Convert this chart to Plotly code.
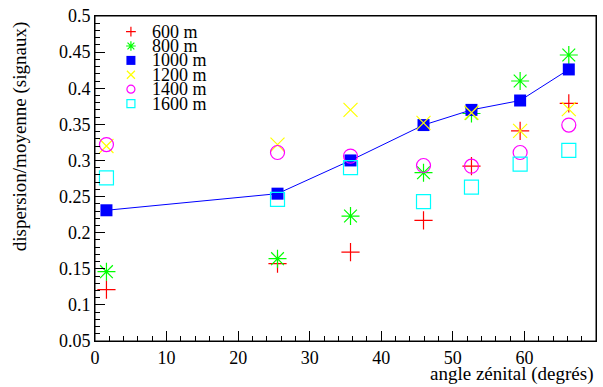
import plotly.graph_objects as go

# angle zénital (degrés)
angles = [1.6, 25.5, 35.7, 45.9, 52.6, 59.4, 66.2]

# dispersion/moyenne par distance
d600 = [0.121, 0.157, 0.173, 0.217, 0.292, 0.341, 0.379]
d800 = [0.146, 0.164, 0.223, 0.283, 0.365, 0.410, 0.446]
d1000 = [0.231, 0.254, 0.300, 0.349, 0.370, 0.383, 0.426]
d1200 = [0.320, 0.322, 0.370, 0.352, 0.366, 0.341, 0.371]
d1400 = [0.322, 0.311, 0.306, 0.293, 0.292, 0.311, 0.349]
d1600 = [0.276, 0.246, 0.290, 0.243, 0.263, 0.295, 0.314]

names = ["600 m", "800 m", "1000 m", "1200 m", "1400 m", "1600 m"]

yticks = [0.05, 0.1, 0.15, 0.2, 0.25, 0.3, 0.35, 0.4, 0.45, 0.5]
ytext = ["0.05", "0.1", "0.15", "0.2", "0.25", "0.3", "0.35", "0.4", "0.45", "0.5"]

FONT = "Liberation Serif, Times New Roman, DejaVu Serif, serif"

colors = ["#ff0000", "#00ff00", "#0000ff", "#ffff00", "#ff00ff", "#00ffff"]
symbols = ["cross-thin", "asterisk", "square", "x-thin", "circle-open", "square-open"]
sizes = [13, 15, 12, 14, 14, 14]
leg_sizes = [7, 8, 9, 8, 8, 8]

series = [d600, d800, d1000, d1200, d1400, d1600]


def marker(i, size):
    lw = 0 if symbols[i] == "square" else 1.2
    return dict(symbol=symbols[i], size=size, color=colors[i],
                line=dict(color=colors[i], width=lw))


fig = go.Figure()

for i, (name, vals) in enumerate(zip(names, series)):
    fig.add_trace(
        go.Scatter(
            x=angles,
            y=vals,
            name=name,
            mode="lines+markers" if name == "1000 m" else "markers",
            line=dict(color="#0000ff", width=1),
            marker=marker(i, sizes[i]),
            showlegend=False,
        )
    )

# légende façon ROOT (espacement serré)
leg_x = 0.0717
leg_top = 0.952
leg_step = 0.0443
for i, name in enumerate(names):
    yy = leg_top - i * leg_step
    fig.add_trace(
        go.Scatter(
            x=[leg_x],
            y=[yy],
            mode="markers",
            marker=marker(i, leg_sizes[i]),
            xaxis="x2",
            yaxis="y2",
            showlegend=False,
            hoverinfo="skip",
        )
    )
    fig.add_annotation(
        x=0.1096, y=yy, xref="paper", yref="paper",
        text=name, showarrow=False, xanchor="left", yanchor="middle",
        font=dict(family=FONT, size=18, color="black"),
    )

# titres des axes
fig.add_annotation(
    x=1.0, y=-0.103, xref="paper", yref="paper",
    text="angle zénital (degrés)", showarrow=False,
    xanchor="right", yanchor="middle",
    font=dict(family=FONT, size=19, color="black"),
)
fig.add_annotation(
    x=-0.149, y=0.991, xref="paper", yref="paper",
    text="dispersion/moyenne (signaux)", showarrow=False, textangle=-90,
    xanchor="center", yanchor="top",
    font=dict(family=FONT, size=19, color="black"),
)

# cadre
fig.add_shape(type="rect", xref="paper", yref="paper", x0=0, y0=0, x1=1, y1=1,
              line=dict(color="black", width=1), fillcolor="rgba(0,0,0,0)", layer="above")

fig.update_layout(
    width=603,
    height=387,
    margin=dict(l=95, r=6, t=10, b=46),
    paper_bgcolor="white",
    plot_bgcolor="white",
    font=dict(family=FONT, size=18, color="black"),
    showlegend=False,
    xaxis=dict(
        range=[0, 70],
        dtick=10,
        ticks="inside",
        ticklen=10,
        tickcolor="black",
        minor=dict(dtick=2, ticks="inside", ticklen=5, tickcolor="black"),
        showline=True,
        linecolor="black",
        linewidth=1,
        mirror=True,
        showgrid=False,
        zeroline=False,
        tickfont=dict(family=FONT, size=18),
    ),
    yaxis=dict(
        range=[0.05, 0.5],
        tickmode="array",
        tickvals=yticks,
        ticktext=ytext,
        ticks="inside",
        ticklen=10,
        tickcolor="black",
        minor=dict(dtick=0.01, tick0=0.05, ticks="inside", ticklen=5, tickcolor="black"),
        showline=True,
        linecolor="black",
        linewidth=1,
        mirror=True,
        showgrid=False,
        zeroline=False,
        tickfont=dict(family=FONT, size=18),
    ),
    xaxis2=dict(range=[0, 1], overlaying="x", visible=False, fixedrange=True),
    yaxis2=dict(range=[0, 1], overlaying="y", visible=False, fixedrange=True),
)

fig.write_html(
    "out.html",
    config={"displayModeBar": False},
    post_script="document.body.style.margin='0';",
)
